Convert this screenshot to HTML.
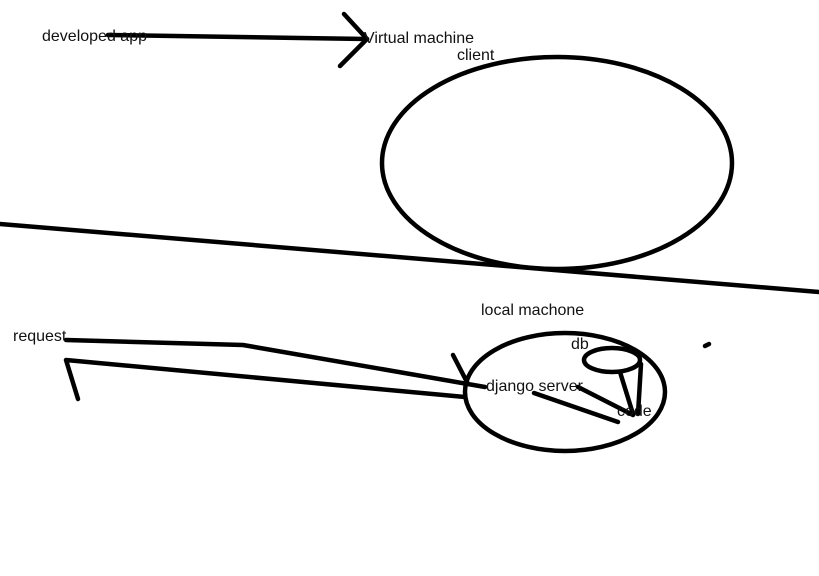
<!DOCTYPE html>
<html><head><meta charset="utf-8"><style>
html,body{margin:0;padding:0;background:#fff;}
svg{display:block;}
text{font-family:"Liberation Sans",sans-serif;font-size:16px;fill:#111;}
</style></head><body>
<svg width="819" height="576" viewBox="0 0 819 576" xmlns="http://www.w3.org/2000/svg">
<g fill="none" stroke="#000" stroke-width="4.5" stroke-linecap="round" stroke-linejoin="round">
<polyline points="108,35 175,36 300,38 367,39"/>
<polyline points="344,14 367,39 340,66"/>
<ellipse cx="557" cy="163" rx="175" ry="106"/>
<line x1="0" y1="224" x2="819" y2="292"/>
<polyline points="66,340 243,345 485,387"/>
<polyline points="78,399 66,360 465,397"/>
<line x1="453" y1="355" x2="468" y2="384"/>
<ellipse cx="565" cy="392" rx="100" ry="59"/>
<ellipse cx="612" cy="360" rx="28" ry="12"/>
<line x1="620" y1="372" x2="633" y2="414"/>
<line x1="641" y1="364" x2="638" y2="414"/>
<line x1="578" y1="387" x2="633" y2="415"/>
<line x1="534" y1="393" x2="618" y2="422"/>
<line x1="705" y1="346" x2="709" y2="344"/>
</g>
<text x="42" y="41">developed app</text>
<text x="364" y="43">Virtual machine</text>
<text x="457" y="60">client</text>
<text x="481" y="315">local machone</text>
<text x="13" y="341">request</text>
<text x="571" y="349">db</text>
<text x="486" y="391">django server</text>
<text x="617" y="416">code</text>
</svg>
</body></html>
